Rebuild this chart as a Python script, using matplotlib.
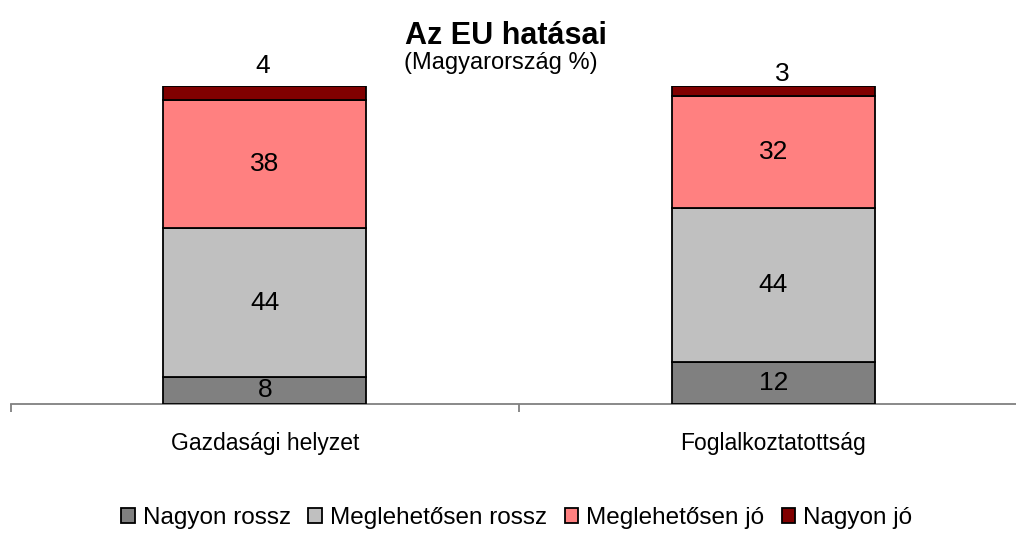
import numpy as np
import matplotlib
matplotlib.use('Agg')
import matplotlib.pyplot as plt

plt.rcParams['font.family'] = ['Liberation Sans', 'DejaVu Sans']

kategoriak = ['Gazdasági helyzet', 'Foglalkoztatottság']
sorozatok = ['Nagyon rossz', 'Meglehetősen rossz', 'Meglehetősen jó', 'Nagyon jó']
nagyon_rossz = [8, 12]
meglehetosen_rossz = [44, 44]
meglehetosen_jo = [38, 32]
nagyon_jo = [4, 3]
szinek = ['#808080', '#C0C0C0', '#FF8080', '#800000']

ertekek = np.array([nagyon_rossz, meglehetosen_rossz, meglehetosen_jo, nagyon_jo], dtype=float)
aranyok = ertekek / ertekek.sum(axis=0)  # 100%-ra halmozott oszlopok

fig = plt.figure(figsize=(10.16, 5.56), dpi=100)
ax = fig.add_axes([10.5 / 1016, 152 / 556, 1017 / 1016, 318 / 556])

x = np.arange(len(kategoriak))
alja = np.zeros(len(kategoriak))
for i, (nev, szin) in enumerate(zip(sorozatok, szinek)):
    ax.bar(x, aranyok[i], 0.4, bottom=alja, color=szin, edgecolor='black',
           linewidth=1.3, label=nev, zorder=3)
    for j in range(len(kategoriak)):
        if i == len(sorozatok) - 1:
            # a legfelső kis értékek a sáv fölé kerülnek
            eltolas = [(-2, 20), (9, 12)][j]
            ax.annotate(f'{ertekek[i, j]:.0f}', (x[j], alja[j] + aranyok[i, j]),
                        xytext=eltolas, textcoords='offset pixels',
                        ha='center', va='center', fontsize=19)
        else:
            ax.text(x[j], alja[j] + aranyok[i, j] / 2, f'{ertekek[i, j]:.0f}',
                    ha='center', va='center', fontsize=19)
    alja += aranyok[i]

ax.set_xlim(-0.5, 1.5)
ax.set_ylim(0, 1)
for s in ['top', 'right', 'left']:
    ax.spines[s].set_visible(False)
ax.spines['bottom'].set_color('#808080')
ax.spines['bottom'].set_linewidth(1.3)
ax.set_yticks([])
ax.set_xticks([-0.5, 0.5, 1.5])
ax.set_xticklabels([])
ax.tick_params(axis='x', which='major', length=6, width=1.3, color='#808080')
ax.set_xticks(x, minor=True)
ax.set_xticklabels(kategoriak, minor=True, fontsize=16.5)
ax.tick_params(axis='x', which='minor', length=0, pad=20)

fig.text(506 / 1016, 1 - 36 / 556, 'Az EU hatásai', ha='center', va='center',
         fontsize=22, fontweight='bold')
fig.text(501 / 1016, 1 - 63 / 556, '(Magyarország %)', ha='center', va='center',
         fontsize=17)

fig.legend(loc='center', bbox_to_anchor=(517 / 1016, 1 - 518 / 556), ncol=4,
           frameon=False, fontsize=17.5, handlelength=0.55, handleheight=0.55,
           handletextpad=0.35, columnspacing=0.7)

fig.savefig('out.png', dpi=100)
